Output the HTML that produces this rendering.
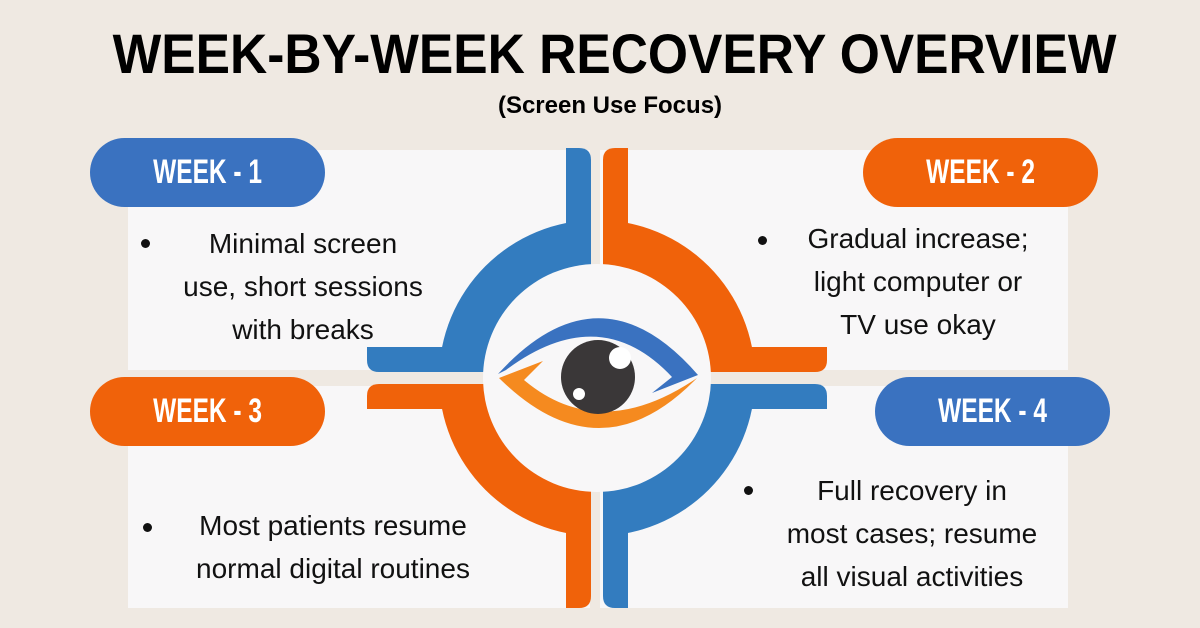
<!DOCTYPE html>
<html><head><meta charset="utf-8"><style>
html,body{margin:0;padding:0}
body{width:1200px;height:628px;background:#efe9e2;position:relative;overflow:hidden;font-family:"Liberation Sans",sans-serif}
.t{position:absolute;left:0;width:1200px;text-align:center;color:#000;font-weight:bold}
.card{position:absolute;background:#f8f7f8}
.pill{position:absolute;width:235px;height:69px;border-radius:35px;color:#fff;font-family:"Liberation Sans Narrow","Liberation Sans",sans-serif;font-weight:bold;font-size:34px;line-height:69px;text-align:center}
.pill span{display:inline-block;transform:scaleX(0.72)}
.txt{position:absolute;font-size:28px;line-height:43px;text-align:center;color:#111;white-space:nowrap}
.b{position:absolute;width:9px;height:9px;border-radius:50%;background:#111}
</style></head><body>
<div class="t" style="top:22px;font-size:56px;line-height:64px;left:15px"><span style="display:inline-block;transform:scaleX(0.92)">WEEK-BY-WEEK RECOVERY OVERVIEW</span></div>
<div class="t" style="top:92px;font-size:24px;line-height:28px;left:10px">(Screen Use Focus)</div>

<div class="card" style="left:128px;top:150px;width:462px;height:220px"></div>
<div class="card" style="left:600px;top:150px;width:468px;height:220px"></div>
<div class="card" style="left:128px;top:386px;width:462px;height:222px"></div>
<div class="card" style="left:600px;top:386px;width:468px;height:222px"></div>

<svg width="1200" height="628" style="position:absolute;left:0;top:0">
<defs>
<clipPath id="q1"><rect x="0" y="0" width="591" height="372"/></clipPath>
<clipPath id="q2"><rect x="603" y="0" width="600" height="372"/></clipPath>
<clipPath id="q3"><rect x="0" y="384" width="591" height="300"/></clipPath>
<clipPath id="q4"><rect x="603" y="384" width="600" height="300"/></clipPath>
</defs>
<g fill="#337cbf">
<circle cx="597" cy="378" r="158" clip-path="url(#q1)"/>
<path d="M566,148 L579,148 Q591,148 591,160 L591,372 L566,372 Z"/>
<path d="M367,347 L591,347 L591,372 L379,372 Q367,372 367,360 Z"/>
</g>
<g fill="#f0620a">
<circle cx="597" cy="378" r="158" clip-path="url(#q2)"/>
<path d="M628,148 L615,148 Q603,148 603,160 L603,372 L628,372 Z"/>
<path d="M827,347 L603,347 L603,372 L815,372 Q827,372 827,360 Z"/>
</g>
<g fill="#f0620a">
<circle cx="597" cy="378" r="158" clip-path="url(#q3)"/>
<path d="M566,608 L579,608 Q591,608 591,596 L591,384 L566,384 Z"/>
<path d="M367,409 L591,409 L591,384 L379,384 Q367,384 367,396 Z"/>
</g>
<g fill="#337cbf">
<circle cx="597" cy="378" r="158" clip-path="url(#q4)"/>
<path d="M628,608 L615,608 Q603,608 603,596 L603,384 L628,384 Z"/>
<path d="M827,409 L603,409 L603,384 L815,384 Q827,384 827,396 Z"/>
</g>
<circle cx="597" cy="378" r="114" fill="#f8f7f8"/>
<path d="M498,374 Q600,262 698,375 L652,393 L672,377 Q600,300 506,370 Z" fill="#3a72c0"/>
<path d="M499,378 L543,361 L524,380 Q600,444 697,378 Q600,478 499,378 Z" fill="#f58a1f"/>
<circle cx="598" cy="377" r="37" fill="#3a3738"/>
<circle cx="620" cy="358" r="11" fill="#fff"/>
<circle cx="579" cy="394" r="6" fill="#fff"/>
</svg>

<div class="pill" style="left:90px;top:138px;background:#3a72c0"><span>WEEK - 1</span></div>
<div class="pill" style="left:863px;top:138px;background:#f0620a"><span>WEEK - 2</span></div>
<div class="pill" style="left:90px;top:377px;background:#f0620a"><span>WEEK - 3</span></div>
<div class="pill" style="left:875px;top:377px;background:#3a72c0"><span>WEEK - 4</span></div>

<div class="b" style="left:141px;top:239px"></div>
<div class="txt" style="left:153px;width:300px;top:222px">Minimal screen<br>use, short sessions<br>with breaks</div>
<div class="b" style="left:758px;top:236px"></div>
<div class="txt" style="left:768px;width:300px;top:217px">Gradual increase;<br>light computer or<br>TV use okay</div>
<div class="b" style="left:143px;top:523px"></div>
<div class="txt" style="left:183px;width:300px;top:504px">Most patients resume<br>normal digital routines</div>
<div class="b" style="left:744px;top:486px"></div>
<div class="txt" style="left:762px;width:300px;top:469px">Full recovery in<br>most cases; resume<br>all visual activities</div>
</body></html>
